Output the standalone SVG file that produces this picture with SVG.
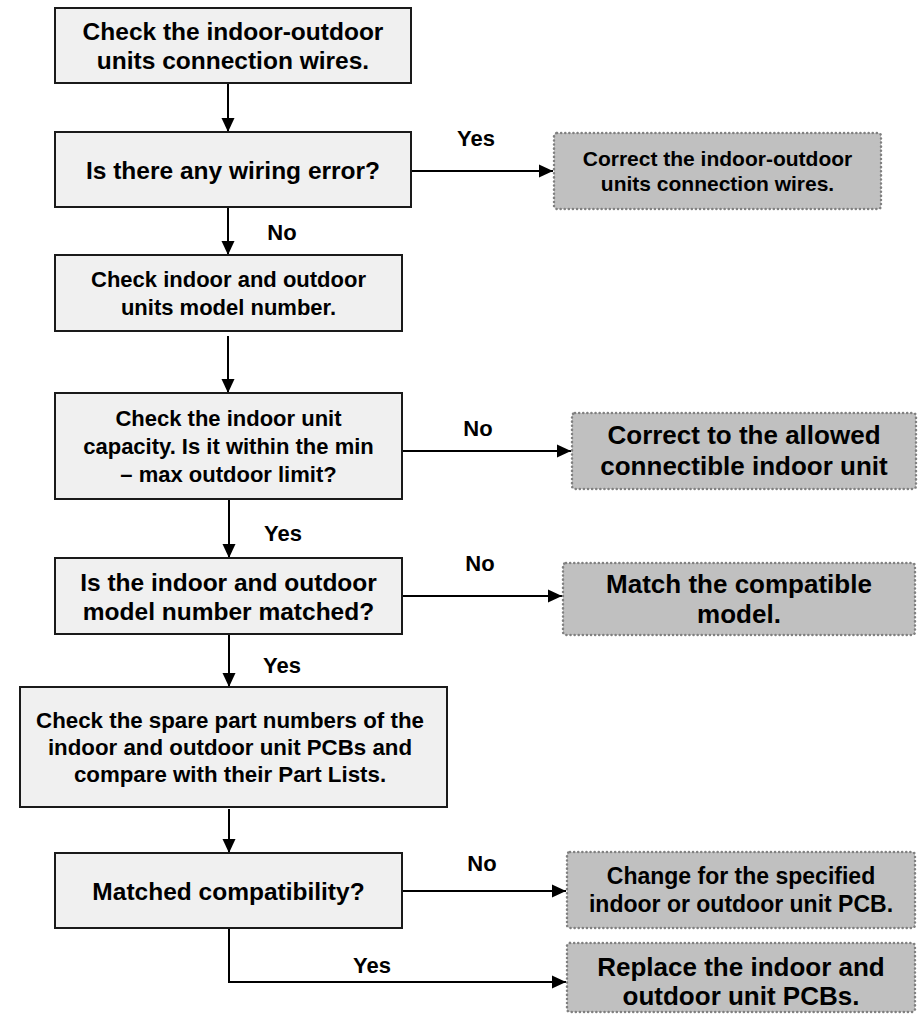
<svg xmlns="http://www.w3.org/2000/svg" width="918" height="1014" viewBox="0 0 918 1014">
<defs>
<marker id="arr" viewBox="0 0 14 14" refX="14" refY="7" markerWidth="14" markerHeight="14" markerUnits="userSpaceOnUse" orient="auto">
<path d="M0,0.5 L14,7 L0,13.5 Z" fill="#000"/>
</marker>
<style>
.box{fill:#f0f0f0;stroke:#1a1a1a;stroke-width:2}
.res{fill:#c0c0c0;stroke:#808080;stroke-width:2.5;stroke-dasharray:0.1 4;stroke-linecap:round}
text{font-family:"Liberation Sans",Arial,sans-serif;font-weight:bold;fill:#000;text-anchor:middle}
.con{fill:none;stroke:#000;stroke-width:2}
.lbl{font-size:22px}
</style>
</defs>
<rect width="918" height="1014" fill="#fff"/>
<g id="connectors">
<line class="con" x1="228" y1="83" x2="228" y2="132" marker-end="url(#arr)"/>
<line class="con" x1="411" y1="171" x2="553" y2="171" marker-end="url(#arr)"/>
<line class="con" x1="228" y1="207" x2="228" y2="255" marker-end="url(#arr)"/>
<line class="con" x1="228" y1="336" x2="228" y2="393" marker-end="url(#arr)"/>
<line class="con" x1="402" y1="451" x2="571" y2="451" marker-end="url(#arr)"/>
<line class="con" x1="229" y1="499" x2="229" y2="558" marker-end="url(#arr)"/>
<line class="con" x1="402" y1="596" x2="562" y2="596" marker-end="url(#arr)"/>
<line class="con" x1="229" y1="634" x2="229" y2="687" marker-end="url(#arr)"/>
<line class="con" x1="229" y1="809" x2="229" y2="853" marker-end="url(#arr)"/>
<line class="con" x1="402" y1="891" x2="566" y2="891" marker-end="url(#arr)"/>
<polyline class="con" points="229,928 229,982 566,982" marker-end="url(#arr)"/>
<text class="lbl" x="476" y="146">Yes</text>
<text class="lbl" x="282" y="240">No</text>
<text class="lbl" x="478" y="436">No</text>
<text class="lbl" x="283" y="541">Yes</text>
<text class="lbl" x="480" y="571">No</text>
<text class="lbl" x="282" y="673">Yes</text>
<text class="lbl" x="482" y="871">No</text>
<text class="lbl" x="372" y="973">Yes</text>
</g>
<g id="n1">
<rect class="box" x="55" y="8" width="356" height="75"/>
<text x="233" y="39.5" font-size="24.5">Check the indoor-outdoor</text>
<text x="233" y="68.5" font-size="24.5">units connection wires.</text>
</g>
<g id="n2">
<rect class="box" x="55" y="132" width="356" height="75"/>
<text x="233" y="179" font-size="24.5">Is there any wiring error?</text>
</g>
<g id="n3">
<rect class="box" x="55" y="255" width="347" height="76"/>
<text x="228.5" y="287" font-size="22">Check indoor and outdoor</text>
<text x="228.5" y="315" font-size="22">units model number.</text>
</g>
<g id="n4">
<rect class="box" x="55" y="393" width="347" height="106"/>
<text x="228.5" y="426" font-size="22">Check the indoor unit</text>
<text x="228.5" y="454" font-size="22">capacity. Is it within the min</text>
<text x="228.5" y="482" font-size="22">– max outdoor limit?</text>
</g>
<g id="n5">
<rect class="box" x="55" y="558" width="347" height="76"/>
<text x="228.5" y="590.5" font-size="24.5">Is the indoor and outdoor</text>
<text x="228.5" y="619.5" font-size="24.5">model number matched?</text>
</g>
<g id="n6">
<rect class="box" x="20" y="687" width="427" height="120"/>
<text x="230" y="728" font-size="22.3">Check the spare part numbers of the</text>
<text x="230" y="755" font-size="22.3">indoor and outdoor unit PCBs and</text>
<text x="230" y="782" font-size="22.3">compare with their Part Lists.</text>
</g>
<g id="n7">
<rect class="box" x="55" y="853" width="347" height="75"/>
<text x="228.5" y="900" font-size="24.5">Matched compatibility?</text>
</g>
<g id="r1">
<rect class="res" x="554" y="133" width="327" height="76" rx="3"/>
<text x="717.5" y="166" font-size="21">Correct the indoor-outdoor</text>
<text x="717.5" y="191" font-size="21">units connection wires.</text>
</g>
<g id="r2">
<rect class="res" x="572" y="413" width="344" height="76" rx="3"/>
<text x="744" y="444" font-size="26">Correct to the allowed</text>
<text x="744" y="475" font-size="26">connectible indoor unit</text>
</g>
<g id="r3">
<rect class="res" x="563" y="563" width="352" height="72" rx="3"/>
<text x="739" y="593" font-size="26">Match the compatible</text>
<text x="739" y="623" font-size="26">model.</text>
</g>
<g id="r4">
<rect class="res" x="567" y="852" width="348" height="76" rx="3"/>
<text x="741" y="884" font-size="23">Change for the specified</text>
<text x="741" y="912" font-size="23">indoor or outdoor unit PCB.</text>
</g>
<g id="r5">
<rect class="res" x="567" y="943" width="348" height="69" rx="3"/>
<text x="741" y="976" font-size="26">Replace the indoor and</text>
<text x="741" y="1005" font-size="26">outdoor unit PCBs.</text>
</g>
</svg>
